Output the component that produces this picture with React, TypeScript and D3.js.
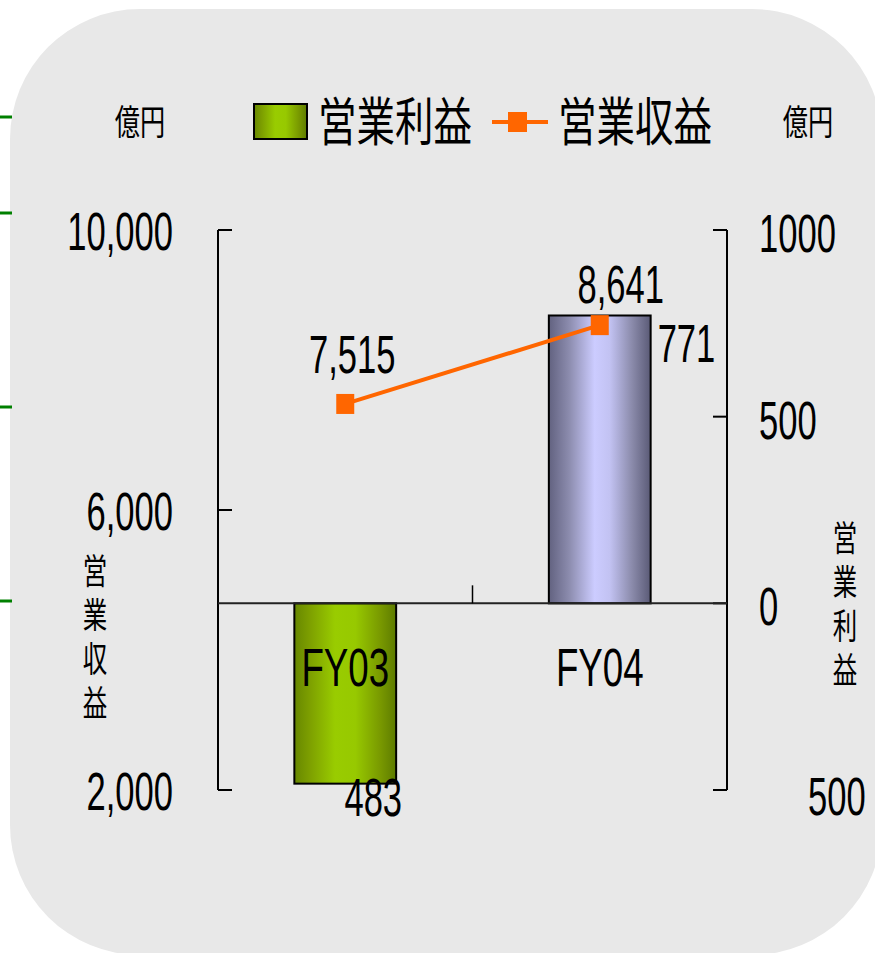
import * as d3 from 'd3'

// 営業利益 (bars, right axis) and 営業収益 (line, left axis), 億円
const categories = ['FY03', 'FY04']
const operatingProfit = [-483, 771]
const operatingRevenue = [7515, 8641]
const profitLabels = ['483', '771']
const revenueLabels = ['7,515', '8,641']
const leftTicks = [2000, 6000, 10000]
const leftTickLabels = ['2,000', '6,000', '10,000']
const rightTicks = [-500, 0, 500, 1000]
const rightTickLabels = ['500', '0', '500', '1000']
const sideMarks = [117, 213, 407, 601]

const W = 875
const H = 953
const NUM = '"Liberation Sans", Arial, sans-serif'
const JP = '"Noto Sans CJK JP", "Noto Sans", sans-serif'

// narrow, tall glyphs like the original
function T({ x, y, s, sx = 0.64, anchor = 'start', font = NUM, children }: any) {
    return (
        <text transform={`translate(${x},${y}) scale(${sx},1)`} fontSize={s}
            fontFamily={font} textAnchor={anchor} fill="#000">{children}</text>
    )
}

// one character per line
function VText({ x, y, s, gap, text }: any) {
    return (
        <text transform={`translate(${x},${y}) scale(0.7,1)`} fontSize={s}
            fontFamily={JP} textAnchor="middle" fill="#000">
            {Array.from(text as string).map((ch, i) => (
                <tspan key={i} x={0} y={i * gap}>{ch}</tspan>
            ))}
        </text>
    )
}

export default function App() {
    const plotLeft = 218
    const plotRight = 727
    const plotTop = 230
    const plotBottom = 790

    const x = d3.scaleBand().domain(categories).range([plotLeft, plotRight]).padding(0)
    const yLeft = d3.scaleLinear().domain([2000, 10000]).range([plotBottom, plotTop])
    const yRight = d3.scaleLinear().domain([-500, 1000]).range([plotBottom, plotTop])
    const bw = x.bandwidth()
    const cx = (c: string) => x(c)! + bw / 2
    const zero = yRight(0)

    const line = d3.line<number>()
        .x((_, i) => cx(categories[i]))
        .y(d => yLeft(d))

    return (
        <svg width={W} height={H} style={{ position: 'absolute', left: 0, top: 0, display: 'block' }}>
            <defs>
                <linearGradient id="gGreen" x1="0" x2="1" y1="0" y2="0">
                    <stop offset="0" stopColor="#678700" />
                    <stop offset="0.15" stopColor="#7d9f00" />
                    <stop offset="0.4" stopColor="#99cc00" />
                    <stop offset="0.6" stopColor="#97c900" />
                    <stop offset="0.85" stopColor="#789800" />
                    <stop offset="1" stopColor="#5d7b00" />
                </linearGradient>
                <linearGradient id="gPurple" x1="0" x2="1" y1="0" y2="0">
                    <stop offset="0" stopColor="#626280" />
                    <stop offset="0.2" stopColor="#8c8cae" />
                    <stop offset="0.45" stopColor="#ccccff" />
                    <stop offset="0.6" stopColor="#c2c2f2" />
                    <stop offset="0.82" stopColor="#8a8aaa" />
                    <stop offset="1" stopColor="#5a5a76" />
                </linearGradient>
            </defs>

            <rect x={0} y={0} width={W} height={H} fill="#fff" />
            <rect x={10} y={9} width={872} height={946} rx={130} ry={130} fill="#e8e8e8" />

            {sideMarks.map(m => (
                <line key={m} x1={0} x2={12} y1={m} y2={m} stroke="#008000" strokeWidth={3} />
            ))}

            {/* legend */}
            <rect x={254} y={104} width={53} height={35} fill="url(#gGreen)" stroke="#000" strokeWidth={2} />
            <T x={318} y={141} s={52} sx={0.74} font={JP}>営業利益</T>
            <line x1={492} x2={548} y1={122} y2={122} stroke="#ff6600" strokeWidth={4} />
            <rect x={508} y={112} width={19} height={20} fill="#ff6600" />
            <T x={558} y={141} s={52} sx={0.74} font={JP}>営業収益</T>

            <T x={140} y={135} s={35} sx={0.72} anchor="middle" font={JP}>億円</T>
            <T x={808} y={135} s={35} sx={0.72} anchor="middle" font={JP}>億円</T>

            {/* axis titles, stacked vertically */}
            <VText x={95} y={584} s={35} gap={44} text="営業収益" />
            <VText x={845} y={551} s={35} gap={44} text="営業利益" />

            {/* bars */}
            {categories.map((c, i) => {
                const v = operatingProfit[i]
                const y0 = yRight(Math.max(0, v))
                const y1 = yRight(Math.min(0, v))
                return (
                    <rect key={c} x={x(c)! + bw * 0.3} width={bw * 0.4} y={y0} height={y1 - y0}
                        fill={v < 0 ? 'url(#gGreen)' : 'url(#gPurple)'} stroke="#000" strokeWidth={2} />
                )
            })}

            {/* axes */}
            <line x1={plotLeft} x2={plotLeft} y1={plotTop} y2={plotBottom} stroke="#000" strokeWidth={2} />
            {leftTicks.map((t, i) => (
                <g key={t}>
                    <line x1={plotLeft} x2={plotLeft + 14} y1={yLeft(t)} y2={yLeft(t)} stroke="#000" strokeWidth={2} />
                    <T x={173} y={yLeft(t) + 20} s={54} anchor="end">{leftTickLabels[i]}</T>
                </g>
            ))}
            <line x1={plotRight} x2={plotRight} y1={plotTop} y2={plotBottom} stroke="#000" strokeWidth={2} />
            {rightTicks.map((t, i) => (
                <g key={t}>
                    <line x1={plotRight - 14} x2={plotRight} y1={yRight(t)} y2={yRight(t)} stroke="#000" strokeWidth={2} />
                    <T x={t < 0 ? 808 : 759} y={yRight(t) + (t < 0 ? 25 : 22)} s={54}>{rightTickLabels[i]}</T>
                </g>
            ))}
            <line x1={plotLeft} x2={plotRight} y1={zero} y2={zero} stroke="#222" strokeWidth={2} />
            <line x1={x(categories[1])!} x2={x(categories[1])!} y1={zero} y2={zero - 18} stroke="#000" strokeWidth={1.5} />

            {categories.map(c => (
                <T key={c} x={cx(c)} y={686} s={54} sx={0.68} anchor="middle">{c}</T>
            ))}

            {/* revenue line */}
            <path d={line(operatingRevenue) ?? ''} fill="none" stroke="#ff6600" strokeWidth={4} />
            {operatingRevenue.map((v, i) => (
                <rect key={i} x={cx(categories[i]) - 9} y={yLeft(v) - 10} width={18} height={20} fill="#ff6600" />
            ))}

            {/* data labels */}
            <T x={cx(categories[0]) + 7} y={yLeft(operatingRevenue[0]) - 31} s={54} anchor="middle">{revenueLabels[0]}</T>
            <T x={cx(categories[1]) + 21} y={yLeft(operatingRevenue[1]) - 22} s={54} anchor="middle">{revenueLabels[1]}</T>
            <T x={x(categories[1])! + bw * 0.7 + 7} y={yRight(operatingProfit[1]) + 47} s={54}>{profitLabels[1]}</T>
            <T x={cx(categories[0]) + 28} y={yRight(operatingProfit[0]) + 32} s={54} anchor="middle">{profitLabels[0]}</T>
        </svg>
    )
}
